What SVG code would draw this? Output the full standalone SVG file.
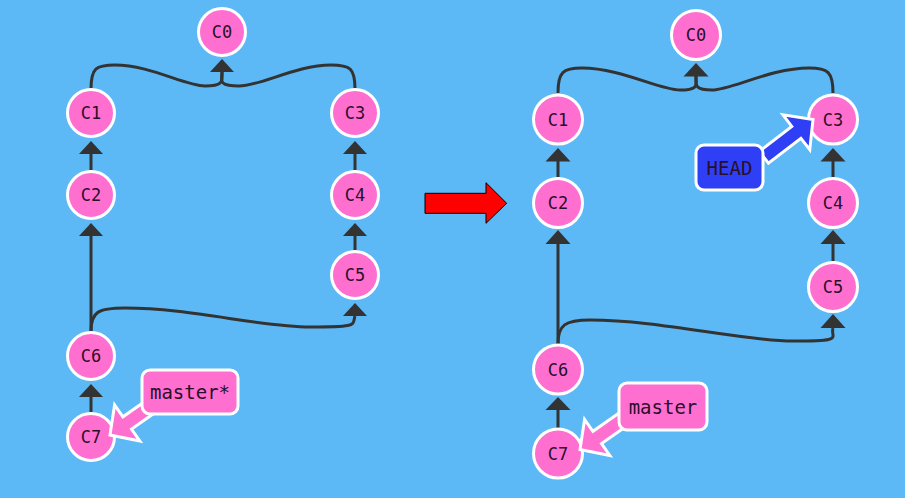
<svg xmlns="http://www.w3.org/2000/svg" width="905" height="498" viewBox="0 0 905 498">
<style>
.bg{fill:#5db9f6}
.node circle{fill:#ff6fd0;stroke:#ffffff;stroke-width:3}
.lbl{font-family:"DejaVu Sans Mono","Liberation Mono",monospace;fill:#2a0f28;text-anchor:middle;dominant-baseline:central}
.n{font-size:17px}
.t{font-size:19px}
.edge{fill:none;stroke:#333333;stroke-width:3}
.head{fill:#333333}
.tagp{fill:#ff6fd0;stroke:#ffffff;stroke-width:3;stroke-linejoin:miter}
.tagb{fill:#2f3ff5;stroke:#ffffff;stroke-width:3;stroke-linejoin:miter}
</style>
<defs>
<polygon id="blk" points="0,0 21,-22 21,-7.5 62,-7.5 62,7.5 21,7.5 21,22"/>
</defs>
<rect class="bg" x="0" y="0" width="905" height="498"/>

<g id="connectors">
<!-- left graph -->
<path class="edge" d="M91 89 C91 68 96 65 115 65 C150 65 185 86 205 86 S222 80 222 72"/>
<path class="edge" d="M355 89 C355 68 350 65 331 65 C296 65 261 86 239 86 S222 80 222 72"/>
<polygon class="head" points="222,59 234,72 210,72"/>
<line class="edge" x1="91" y1="153" x2="91" y2="170"/>
<polygon class="head" points="91,141 103,154 79,154"/>
<line class="edge" x1="355" y1="153" x2="355" y2="170"/>
<polygon class="head" points="355,141 367,154 343,154"/>
<line class="edge" x1="91" y1="235" x2="91" y2="331"/>
<polygon class="head" points="91,223 103,236 79,236"/>
<line class="edge" x1="355" y1="235" x2="355" y2="251"/>
<polygon class="head" points="355,223 367,236 343,236"/>
<path class="edge" d="M91 331 C91 312 98 308 125 308 C190 308 260 327 310 327 S352 325 355 316"/>
<polygon class="head" points="355,303 367,316 343,316"/>
<line class="edge" x1="91" y1="396" x2="91" y2="412"/>
<polygon class="head" points="91,384 103,397 79,397"/>
<!-- right graph -->
<path class="edge" d="M558 93 C558 72 563 68 582 68 C620 68 660 90 680 90 S696 84 696 76"/>
<path class="edge" d="M833 93 C833 72 828 68 809 68 C771 68 731 90 712 90 S696 84 696 76"/>
<polygon class="head" points="696,63 708.5,76.5 683.5,76.5"/>
<line class="edge" x1="558" y1="160" x2="558" y2="177"/>
<polygon class="head" points="558,148 570.5,161.5 545.5,161.5"/>
<line class="edge" x1="833" y1="160" x2="833" y2="177"/>
<polygon class="head" points="833,148 845.5,161.5 820.5,161.5"/>
<line class="edge" x1="558" y1="243" x2="558" y2="344"/>
<polygon class="head" points="558,230 570.5,244 545.5,244"/>
<line class="edge" x1="833" y1="243" x2="833" y2="261"/>
<polygon class="head" points="833,230 845.5,244 820.5,244"/>
<path class="edge" d="M558 344 C558 325 565 320 590 320 C660 320 740 341 793 341 S830 338 833 328"/>
<polygon class="head" points="833,314 845.5,328 820.5,328"/>
<line class="edge" x1="558" y1="409" x2="558" y2="428"/>
<polygon class="head" points="558,397 570.5,410 545.5,410"/>
</g>

<g id="C0L" class="node"><circle cx="222" cy="32" r="23.5"/><text class="lbl n" x="222" y="32">C0</text></g>
<g id="C1L" class="node"><circle cx="91" cy="113" r="23.5"/><text class="lbl n" x="91" y="113">C1</text></g>
<g id="C3L" class="node"><circle cx="355" cy="113" r="23.5"/><text class="lbl n" x="355" y="113">C3</text></g>
<g id="C2L" class="node"><circle cx="91" cy="195" r="23.5"/><text class="lbl n" x="91" y="195">C2</text></g>
<g id="C4L" class="node"><circle cx="355" cy="195" r="23.5"/><text class="lbl n" x="355" y="195">C4</text></g>
<g id="C5L" class="node"><circle cx="355" cy="275" r="23.5"/><text class="lbl n" x="355" y="275">C5</text></g>
<g id="C6L" class="node"><circle cx="91" cy="356" r="23.5"/><text class="lbl n" x="91" y="356">C6</text></g>
<g id="C7L" class="node"><circle cx="91" cy="437" r="23.5"/><text class="lbl n" x="91" y="437">C7</text></g>

<g id="masterL">
<use href="#blk" class="tagp" transform="translate(110,435) rotate(-35)"/>
<rect class="tagp" x="142" y="370" width="96" height="44" rx="8"/>
<text class="lbl t" x="190" y="392">master*</text>
</g>

<g id="transition">
<polygon points="425,193.3 486,193.3 486,182.7 506.7,203.3 486,223.3 486,213.3 425,213.3" fill="#ff0000" stroke="#000000" stroke-width="1"/>
</g>

<g id="C0R" class="node"><circle cx="696" cy="35" r="24.5"/><text class="lbl n" x="696" y="35">C0</text></g>
<g id="C1R" class="node"><circle cx="558" cy="119.5" r="24.5"/><text class="lbl n" x="558" y="119.5">C1</text></g>
<g id="C3R" class="node"><circle cx="833" cy="119.5" r="24.5"/><text class="lbl n" x="833" y="119.5">C3</text></g>
<g id="C2R" class="node"><circle cx="558" cy="203" r="24.5"/><text class="lbl n" x="558" y="203">C2</text></g>
<g id="C4R" class="node"><circle cx="833" cy="203" r="24.5"/><text class="lbl n" x="833" y="203">C4</text></g>
<g id="C5R" class="node"><circle cx="833" cy="287" r="24.5"/><text class="lbl n" x="833" y="287">C5</text></g>
<g id="C6R" class="node"><circle cx="558" cy="369.5" r="24.5"/><text class="lbl n" x="558" y="369.5">C6</text></g>
<g id="C7R" class="node"><circle cx="558" cy="453.5" r="24.5"/><text class="lbl n" x="558" y="453.5">C7</text></g>

<g id="masterR">
<use href="#blk" class="tagp" transform="translate(580,449.5) rotate(-35)"/>
<rect class="tagp" x="619" y="383" width="88" height="47" rx="8"/>
<text class="lbl t" x="663" y="406.5">master</text>
</g>

<g id="HEAD">
<use href="#blk" class="tagb" transform="translate(813,119.5) rotate(142.4)"/>
<rect class="tagb" x="696" y="145" width="67" height="45" rx="8"/>
<text class="lbl t" x="729.5" y="167.5">HEAD</text>
</g>
</svg>
